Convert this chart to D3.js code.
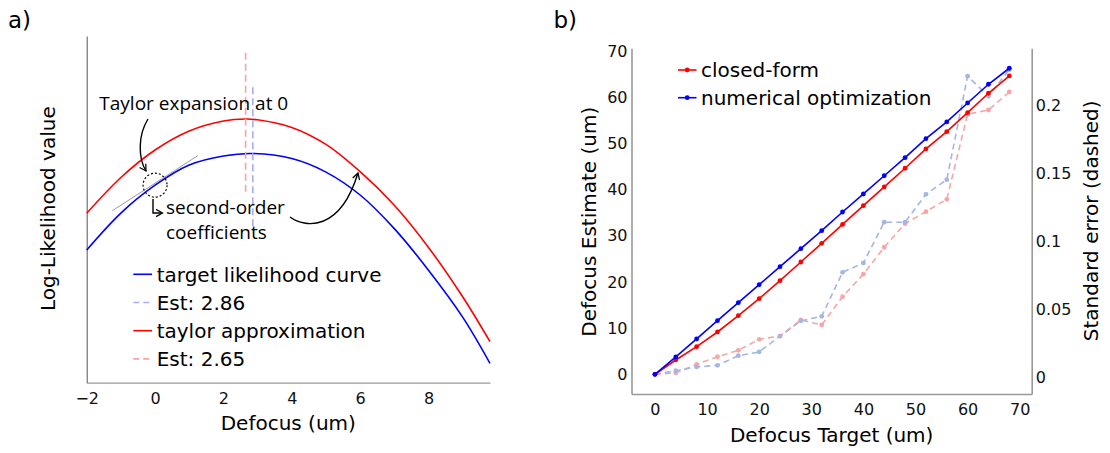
<!DOCTYPE html>
<html>
<head>
<meta charset="utf-8">
<script src="https://cdn.jsdelivr.net/npm/d3@7"></script>
<style>
  html, body { margin: 0; padding: 0; background: #fff; }
  svg { display: block; font-family: "DejaVu Sans", Verdana, sans-serif; }
</style>
</head>
<body>
<svg id="chart" width="1110" height="453"></svg>
<script>
// ---------- Panel a: log-likelihood curves (arbitrary log-likelihood units) ----------
const targetDefocus = [-2, -1, 0, 1, 2, 2.86, 4, 5, 6, 7, 8, 9, 9.8];
const targetLL      = [13.27, 16.96, 19.75, 21.77, 22.67, 22.92, 22.41, 21.06, 18.77, 15.41, 11.25, 6.56, 1.94];
const taylorDefocus = [-2, -1, 0, 1, 2, 2.65, 3, 4, 5, 6, 7, 8, 9, 9.8];
const taylorLL      = [16.94, 20.52, 23.27, 25.17, 26.17, 26.37, 26.29, 25.53, 23.83, 21.1, 17.74, 13.53, 8.59, 4.1];
const estTarget = 2.86;
const estTaylor = 2.65;
const estTargetSpan = [15.27, 29.54];
const estTaylorSpan = [19.0, 33.0];
const tangentDefocus = [-1.25, 1.25];
const tangentLL      = [17.2, 22.7];
const expansionPoint = 0;
const defocusTicksA  = [-2, 0, 2, 4, 6, 8];

// ---------- Panel b: estimate vs target ----------
const targetsB     = [0, 4, 8, 12, 16, 20, 24, 28, 32, 36, 40, 44, 48, 52, 56, 60, 64, 68];
const closedForm   = [0, 3.10, 5.98, 9.16, 12.69, 16.37, 20.27, 24.32, 28.37, 32.45, 36.52, 40.57, 44.62, 48.8, 52.55, 56.66, 60.86, 64.61];
const numericalOpt = [0, 3.75, 7.65, 11.61, 15.51, 19.41, 23.3, 27.2, 31.1, 35.15, 39.05, 43.0, 46.91, 51.03, 54.65, 58.76, 62.81, 66.28];
const closedFormSE = [0.0022, 0.0032, 0.0095, 0.0151, 0.0198, 0.0279, 0.0303, 0.0421, 0.0384, 0.0592, 0.0757, 0.0955, 0.1128, 0.1216, 0.1307, 0.1932, 0.1963, 0.2095];
const numericalSE  = [0.0022, 0.0048, 0.0076, 0.0088, 0.0159, 0.0186, 0.0303, 0.0414, 0.0448, 0.0771, 0.0840, 0.1139, 0.1139, 0.1344, 0.1451, 0.2211, 0.2064, 0.2260];
const estimateTicks = [0, 10, 20, 30, 40, 50, 60, 70];
const targetTicks   = [0, 10, 20, 30, 40, 50, 60, 70];
const seTicks       = [0, 0.05, 0.1, 0.15, 0.2];

const RED = "#ff0000", BLUE = "#0000ff";
const RED_LIGHT_A = "#f7a3a3", BLUE_LIGHT_A = "#a9acf6";
const RED_LIGHT_B = "#f6a6a6", BLUE_LIGHT_B = "#a6b6e4";
const AXIS_GREY = "#9a9a9a";

const svg = d3.select("#chart");
const defs = svg.append("defs");
defs.append("marker")
  .attr("id", "chev")
  .attr("viewBox", "0 0 10 10")
  .attr("refX", 8).attr("refY", 5)
  .attr("markerWidth", 9).attr("markerHeight", 9)
  .attr("markerUnits", "userSpaceOnUse")
  .attr("orient", "auto")
  .append("path")
  .attr("d", "M1,1 L8,5 L1,9")
  .attr("fill", "none").attr("stroke", "#000").attr("stroke-width", 1.4);

function styleAxis(g, size) {
  g.selectAll("text").attr("font-size", size).attr("fill", "#111")
    .attr("font-family", '"DejaVu Sans", Verdana, sans-serif');
  g.select(".domain").attr("stroke", AXIS_GREY);
}

// ================= Panel a =================
const xA = d3.scaleLinear().domain([-2, 9.8]).range([86.7, 490]);
const yA = d3.scaleLinear().domain([0, 34.67]).range([382.7, 36]);
const pa = svg.append("g");

pa.append("text").attr("x", 8).attr("y", 28).attr("font-size", 23).text("a)");

const axA = pa.append("g").attr("transform", `translate(0,${yA.range()[0]})`)
  .call(d3.axisBottom(xA).tickValues(defocusTicksA).tickSize(0).tickPadding(10).tickSizeOuter(0));
styleAxis(axA, 16);
axA.select(".domain").attr("stroke-width", 1.2);
const ayA = pa.append("g").attr("transform", `translate(${xA.range()[0]},0)`)
  .call(d3.axisLeft(yA).tickValues([]).tickSizeOuter(0));
ayA.select(".domain").attr("stroke", "#666").attr("stroke-width", 1.1);

pa.append("text").attr("x", 288.3).attr("y", 423.3).attr("dy", "0.35em")
  .attr("text-anchor", "middle").attr("font-size", 20).text("Defocus (um)");
pa.append("text").attr("transform", "translate(47.5,208.7) rotate(-90)").attr("dy", "0.35em")
  .attr("text-anchor", "middle").attr("font-size", 20).text("Log-Likelihood value");

const lineA = d3.line().x(d => xA(d[0])).y(d => yA(d[1])).curve(d3.curveCatmullRom.alpha(0.5));

// tangent at the expansion point
pa.append("path")
  .attr("d", d3.line().x(d => xA(d[0])).y(d => yA(d[1]))(d3.zip(tangentDefocus, tangentLL)))
  .attr("stroke", "#9c9c9c").attr("stroke-width", 1).attr("fill", "none");

pa.append("path").attr("d", lineA(d3.zip(taylorDefocus, taylorLL)))
  .attr("stroke", RED).attr("stroke-width", 1.6).attr("fill", "none");
pa.append("path").attr("d", lineA(d3.zip(targetDefocus, targetLL)))
  .attr("stroke", BLUE).attr("stroke-width", 1.6).attr("fill", "none");

// estimate markers
pa.append("line").attr("x1", xA(estTaylor)).attr("x2", xA(estTaylor))
  .attr("y1", yA(estTaylorSpan[1])).attr("y2", yA(estTaylorSpan[0]))
  .attr("stroke", RED_LIGHT_A).attr("stroke-width", 1.6).attr("stroke-dasharray", "7,4");
pa.append("line").attr("x1", xA(estTarget)).attr("x2", xA(estTarget))
  .attr("y1", yA(estTargetSpan[1])).attr("y2", yA(estTargetSpan[0]))
  .attr("stroke", BLUE_LIGHT_A).attr("stroke-width", 1.6).attr("stroke-dasharray", "7,4");

// expansion point circle
const llAtExpansion = targetLL[targetDefocus.indexOf(expansionPoint)];
pa.append("circle").attr("cx", xA(expansionPoint)).attr("cy", yA(llAtExpansion)).attr("r", 12)
  .attr("fill", "none").attr("stroke", "#000").attr("stroke-width", 1.2).attr("stroke-dasharray", "2,2");

// annotations (placed in defocus / log-likelihood units)
const annoFont = '"Open Sans", "Noto Sans", sans-serif';
pa.append("text").attr("x", xA(-1.631)).attr("y", yA(27.27)).attr("font-size", 19)
  .attr("font-family", annoFont).text("Taylor expansion at 0");
pa.append("text").attr("x", xA(0.32)).attr("y", yA(16.87)).attr("font-size", 19)
  .attr("font-family", annoFont).text("second-order");
pa.append("text").attr("x", xA(0.32)).attr("y", yA(14.37)).attr("font-size", 19)
  .attr("font-family", annoFont).text("coefficients");

const P = (x, v) => `${xA(x)},${yA(v)}`;
pa.append("path")
  .attr("d", `M${P(-0.207, 26.37)} C${P(-0.499, 24.77)} ${P(-0.499, 22.47)} ${P(-0.265, 21.17)}`)
  .attr("fill", "none").attr("stroke", "#000").attr("stroke-width", 1.4).attr("marker-end", "url(#chev)");
pa.append("path")
  .attr("d", `M${P(3.948, 16.57)} C${P(4.387, 15.47)} ${P(5.411, 15.07)} ${P(5.937, 20.97)}`)
  .attr("fill", "none").attr("stroke", "#000").attr("stroke-width", 1.4).attr("marker-end", "url(#chev)");
pa.append("path")
  .attr("d", `M${P(-0.06, 18.37)} L${P(-0.06, 16.97)} L${P(0.215, 16.97)}`)
  .attr("fill", "none").attr("stroke", "#000").attr("stroke-width", 1.4).attr("marker-end", "url(#chev)");

// legend
const legendA = [
  { label: "target likelihood curve", color: BLUE, dash: null },
  { label: "Est: 2.86", color: BLUE_LIGHT_A, dash: "6,4" },
  { label: "taylor approximation", color: RED, dash: null },
  { label: "Est: 2.65", color: RED_LIGHT_A, dash: "6,4" }
];
const lgA = pa.append("g");
legendA.forEach((d, i) => {
  const y = 274.3 + i * 28.2;
  lgA.append("line").attr("x1", 133.3).attr("x2", 152).attr("y1", y).attr("y2", y)
    .attr("stroke", d.color).attr("stroke-width", 1.6).attr("stroke-dasharray", d.dash);
  lgA.append("text").attr("x", 156.7).attr("y", y).attr("dy", "0.36em")
    .attr("font-size", 20).text(d.label);
});

// ================= Panel b =================
const xB  = d3.scaleLinear().domain([-4.5, 72.3]).range([631.5, 1031.7]);
const yB  = d3.scaleLinear().domain([-4.27, 70.6]).range([394, 48.3]);
const yB2 = d3.scaleLinear().domain([-0.01227, 0.2416]).range([394, 48.3]);
const pb = svg.append("g");

pb.append("text").attr("x", 577).attr("y", 28).attr("text-anchor", "end").attr("font-size", 23).text("b)");

const axB = pb.append("g").attr("transform", `translate(0,${yB.range()[0]})`)
  .call(d3.axisBottom(xB).tickValues(targetTicks).tickSize(0).tickPadding(10).tickSizeOuter(0));
styleAxis(axB, 16);
const ayB = pb.append("g").attr("transform", `translate(${xB.range()[0]},0)`)
  .call(d3.axisLeft(yB).tickValues(estimateTicks).tickSize(0).tickPadding(4).tickSizeOuter(0));
styleAxis(ayB, 16);
const ayB2 = pb.append("g").attr("transform", `translate(${xB.range()[1]},0)`)
  .call(d3.axisRight(yB2).tickValues(seTicks).tickFormat(d3.format("~g")).tickSize(0).tickPadding(4).tickSizeOuter(0));
styleAxis(ayB2, 16);
[axB, ayB, ayB2].forEach(g => g.select(".domain").attr("stroke-width", 1.6));

pb.append("text").attr("x", 831.7).attr("y", 435).attr("dy", "0.35em")
  .attr("text-anchor", "middle").attr("font-size", 20).text("Defocus Target (um)");
pb.append("text").attr("transform", "translate(589,221.7) rotate(-90)").attr("dy", "0.35em")
  .attr("text-anchor", "middle").attr("font-size", 20).text("Defocus Estimate (um)");
pb.append("text").attr("transform", "translate(1091,220.8) rotate(-90)").attr("dy", "0.35em")
  .attr("text-anchor", "middle").attr("font-size", 20).text("Standard error (dashed)");

function series(values, yScale, color, dashed) {
  const pts = d3.zip(targetsB, values);
  const g = pb.append("g");
  g.append("path")
    .attr("d", d3.line().x(d => xB(d[0])).y(d => yScale(d[1]))(pts))
    .attr("fill", "none").attr("stroke", color).attr("stroke-width", 1.6)
    .attr("stroke-dasharray", dashed ? "6,4" : null);
  g.selectAll("circle").data(pts).join("circle")
    .attr("cx", d => xB(d[0])).attr("cy", d => yScale(d[1])).attr("r", 2.4)
    .attr("fill", color);
}
series(closedFormSE, yB2, RED_LIGHT_B, true);
series(numericalSE, yB2, BLUE_LIGHT_B, true);
series(closedForm, yB, RED, false);
series(numericalOpt, yB, BLUE, false);

const legendB = [
  { label: "closed-form", color: RED },
  { label: "numerical optimization", color: BLUE }
];
legendB.forEach((d, i) => {
  const y = 70 + i * 27.7;
  pb.append("line").attr("x1", 678).attr("x2", 696.5).attr("y1", y).attr("y2", y)
    .attr("stroke", d.color).attr("stroke-width", 1.6);
  pb.append("circle").attr("cx", 687.2).attr("cy", y).attr("r", 2.4).attr("fill", d.color);
  pb.append("text").attr("x", 701).attr("y", y).attr("dy", "0.36em")
    .attr("font-size", 20).text(d.label);
});
</script>
</body>
</html>
